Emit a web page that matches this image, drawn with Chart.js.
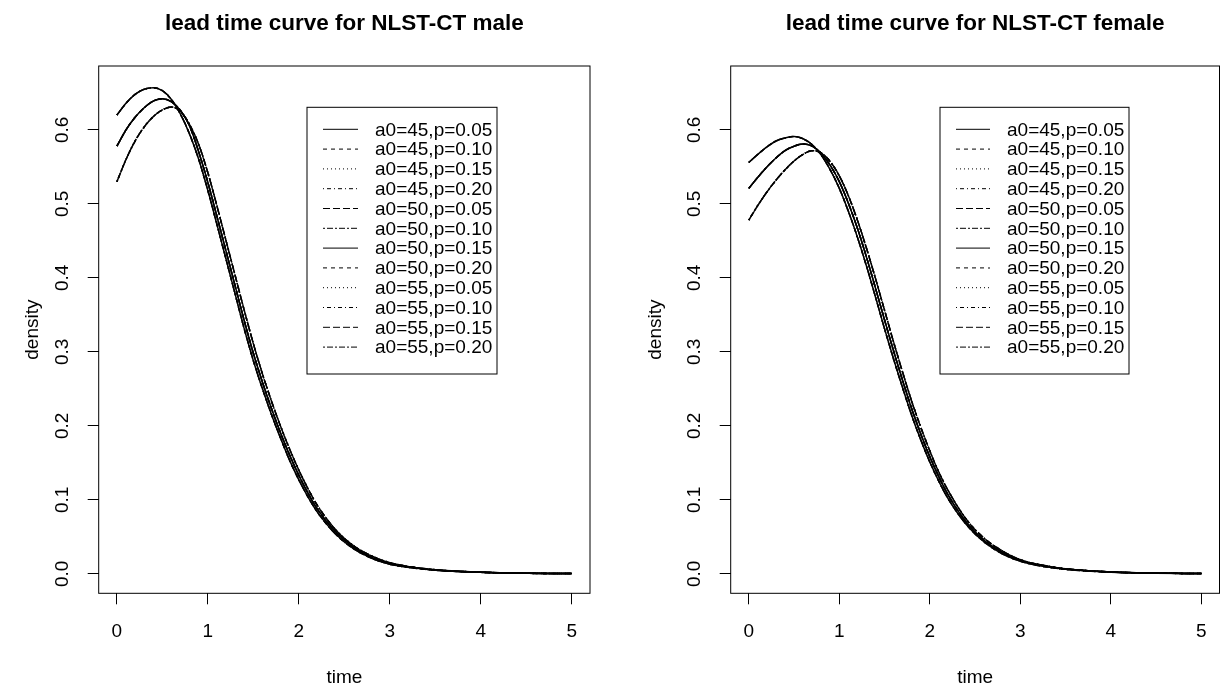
<!DOCTYPE html>
<html>
<head>
<meta charset="utf-8">
<script src="https://cdn.jsdelivr.net/npm/chart.js@4.4.1/dist/chart.umd.min.js"></script>
<style>
  html, body { margin: 0; padding: 0; background: #fff; }
  #wrap { position: relative; width: 1220px; height: 686px; }
  .panel { position: absolute; top: 0; width: 610px; height: 686px; }
</style>
</head>
<body>
<div id="wrap">
  <div class="panel" style="left:0"><canvas id="male" width="610" height="686"></canvas></div>
  <div class="panel" style="left:610px"><canvas id="female" width="610" height="686"></canvas></div>
</div>
<script>
// time grid the curves were read at
const timePoints = [0, 0.1, 0.2, 0.3, 0.4, 0.5, 0.6, 0.7, 0.8, 0.9, 1.0, 1.1, 1.2, 1.3, 1.4, 1.5,
  1.6, 1.7, 1.8, 1.9, 2.0, 2.1, 2.2, 2.4, 2.6, 2.8, 3.0, 3.25, 3.5, 4.0, 4.5, 5.0];

// male panel: three visible curves (a0 = 45, 50, 55)
const maleA45 = [0.620, 0.636, 0.648, 0.655, 0.657, 0.653, 0.641, 0.621, 0.594, 0.560, 0.518, 0.472,
  0.425, 0.378, 0.331, 0.288, 0.250, 0.215, 0.183, 0.153, 0.127, 0.104, 0.084, 0.054, 0.034, 0.021,
  0.013, 0.008, 0.0048, 0.0019, 0.0006, 0.0002];
const maleA50 = [0.578, 0.600, 0.617, 0.630, 0.639, 0.642, 0.638, 0.626, 0.605, 0.570, 0.529, 0.483,
  0.436, 0.389, 0.342, 0.298, 0.259, 0.223, 0.190, 0.160, 0.133, 0.109, 0.088, 0.057, 0.036, 0.022,
  0.014, 0.0085, 0.0052, 0.002, 0.0007, 0.0002];
const maleA55 = [0.530, 0.560, 0.585, 0.604, 0.618, 0.627, 0.631, 0.625, 0.607, 0.580, 0.542, 0.497,
  0.450, 0.403, 0.356, 0.311, 0.270, 0.233, 0.199, 0.168, 0.140, 0.115, 0.093, 0.060, 0.038, 0.024,
  0.015, 0.009, 0.0055, 0.0021, 0.0008, 0.0003];

// female panel
const femaleA45 = [0.556, 0.567, 0.577, 0.585, 0.589, 0.591, 0.588, 0.580, 0.566, 0.546, 0.521, 0.490,
  0.455, 0.416, 0.374, 0.331, 0.290, 0.251, 0.214, 0.181, 0.151, 0.125, 0.102, 0.067, 0.043, 0.027,
  0.017, 0.010, 0.006, 0.0022, 0.0008, 0.0003];
const femaleA50 = [0.521, 0.536, 0.550, 0.562, 0.572, 0.578, 0.581, 0.578, 0.568, 0.552, 0.530, 0.501,
  0.467, 0.428, 0.386, 0.343, 0.301, 0.261, 0.223, 0.189, 0.158, 0.131, 0.107, 0.070, 0.045, 0.029,
  0.018, 0.011, 0.0065, 0.0024, 0.0009, 0.0003];
const femaleA55 = [0.478, 0.498, 0.516, 0.532, 0.546, 0.558, 0.567, 0.572, 0.569, 0.557, 0.538, 0.511,
  0.478, 0.440, 0.399, 0.356, 0.313, 0.272, 0.233, 0.198, 0.166, 0.137, 0.113, 0.074, 0.048, 0.031,
  0.019, 0.0115, 0.0068, 0.0025, 0.0009, 0.0003];

const seriesLabels = [
  "a0=45,p=0.05", "a0=45,p=0.10", "a0=45,p=0.15", "a0=45,p=0.20",
  "a0=50,p=0.05", "a0=50,p=0.10", "a0=50,p=0.15", "a0=50,p=0.20",
  "a0=55,p=0.05", "a0=55,p=0.10", "a0=55,p=0.15", "a0=55,p=0.20",
];
const xTicks = [0, 1, 2, 3, 4, 5];
const yTicks = [0, 0.1, 0.2, 0.3, 0.4, 0.5, 0.6];
const yTickLabels = ["0.0", "0.1", "0.2", "0.3", "0.4", "0.5", "0.6"];

// R lty 1..6
const ltyDash = [[], [4, 4], [1, 3], [1, 3, 4, 3], [7, 3], [2, 2, 6, 2]];

const FONT = "'Liberation Sans', Arial, Helvetica, sans-serif";
const labelFont = { family: FONT, size: 19 };

// box, rotated y labels and legend, drawn the way base R does it
const rFrame = {
  id: "rFrame",
  afterDraw(chart, args, opts) {
    const { ctx, chartArea: a } = chart;
    const g = opts.geom;
    ctx.save();
    ctx.strokeStyle = "#000";
    ctx.lineWidth = 1;
    ctx.strokeRect(a.left, a.top, a.right - a.left, a.bottom - a.top);

    ctx.fillStyle = "#000";
    ctx.font = `19px ${FONT}`;
    ctx.textAlign = "center";
    ctx.textBaseline = "middle";
    const ys = chart.scales.y;
    yTicks.forEach((v, i) => {
      ctx.save();
      ctx.translate(a.left - g.yLabelOffset, ys.getPixelForValue(v));
      ctx.rotate(-Math.PI / 2);
      ctx.fillText(yTickLabels[i], 0, 0);
      ctx.restore();
    });

    const L = g.legend;
    ctx.fillStyle = "#fff";
    ctx.fillRect(L.left, L.top, L.right - L.left, L.bottom - L.top);
    ctx.strokeRect(L.left, L.top, L.right - L.left, L.bottom - L.top);
    ctx.textAlign = "left";
    ctx.fillStyle = "#000";
    chart.data.datasets.forEach((ds, i) => {
      const y = L.row0 + i * L.rowGap;
      ctx.beginPath();
      ctx.setLineDash(ds.borderDash);
      ctx.moveTo(L.lineX0, y);
      ctx.lineTo(L.lineX1, y);
      ctx.stroke();
      ctx.setLineDash([]);
      ctx.fillText(ds.label, L.textX, y + 1);
    });
    ctx.restore();
  },
};

function makeChart(id, title, groups, geom) {
  const datasets = seriesLabels.map((label, i) => ({
    label,
    data: timePoints.map((t, k) => ({ x: t, y: groups[Math.floor(i / 4)][k] })),
    borderColor: "#000",
    borderWidth: 1.5,
    borderDash: ltyDash[i % 6],
    pointRadius: 0,
    fill: false,
    cubicInterpolationMode: "monotone",
  }));

  return new Chart(document.getElementById(id), {
    type: "line",
    data: { datasets },
    options: {
      responsive: false,
      animation: false,
      layout: { padding: { left: 0, right: geom.padRight, top: 0, bottom: 0 } },
      plugins: {
        legend: { display: false },
        tooltip: { enabled: false },
        title: {
          display: true,
          text: title,
          color: "#000",
          fullSize: false,
          font: { family: FONT, size: 22.5, weight: "bold", lineHeight: 1.2 },
          padding: { top: 10, bottom: 29 },
        },
        rFrame: { geom },
      },
      scales: {
        x: {
          type: "linear",
          min: -0.2,
          max: 5.2,
          afterBuildTicks: (s) => { s.ticks = xTicks.map((v) => ({ value: v })); },
          afterFit: (s) => { s.height = 92.7; s.paddingLeft = 0; s.paddingRight = 0; },
          grid: { drawOnChartArea: false, drawTicks: true, tickLength: 11, color: "#000" },
          border: { display: false },
          ticks: { color: "#000", font: labelFont, padding: 16, maxRotation: 0 },
          title: { display: true, text: "time", color: "#000", font: labelFont, padding: { top: 0, bottom: -3 } },
        },
        y: {
          type: "linear",
          min: -0.0264,
          max: 0.6864,
          afterBuildTicks: (s) => { s.ticks = yTicks.map((v) => ({ value: v })); },
          afterFit: (s) => { s.width = geom.yWidth; s.paddingTop = 0; s.paddingBottom = 0; },
          grid: { drawOnChartArea: false, drawTicks: true, tickLength: 11, color: "#000" },
          border: { display: false },
          ticks: { color: "#000", font: labelFont, callback: () => "" },
          title: { display: true, text: "density", color: "#000", font: labelFont, padding: { top: geom.yTitlePad, bottom: 0 } },
        },
      },
    },
    plugins: [rFrame],
  });
}

makeChart("male", "lead time curve for NLST-CT male", [maleA45, maleA50, maleA55], {
  padRight: 20,
  yWidth: 98.7,
  yLabelOffset: 35.7,
  yTitlePad: 21,
  legend: { left: 307, right: 497, top: 107.3, bottom: 374, lineX0: 323, lineX1: 358, textX: 375, row0: 129.3, rowGap: 19.8 },
});

makeChart("female", "lead time curve for NLST-CT female", [femaleA45, femaleA50, femaleA55], {
  padRight: 0.5,
  yWidth: 120.7,
  yLabelOffset: 35.7,
  yTitlePad: 34,
  legend: { left: 330, right: 519, top: 107.3, bottom: 374, lineX0: 346, lineX1: 380, textX: 397, row0: 129.3, rowGap: 19.8 },
});
</script>
</body>
</html>
